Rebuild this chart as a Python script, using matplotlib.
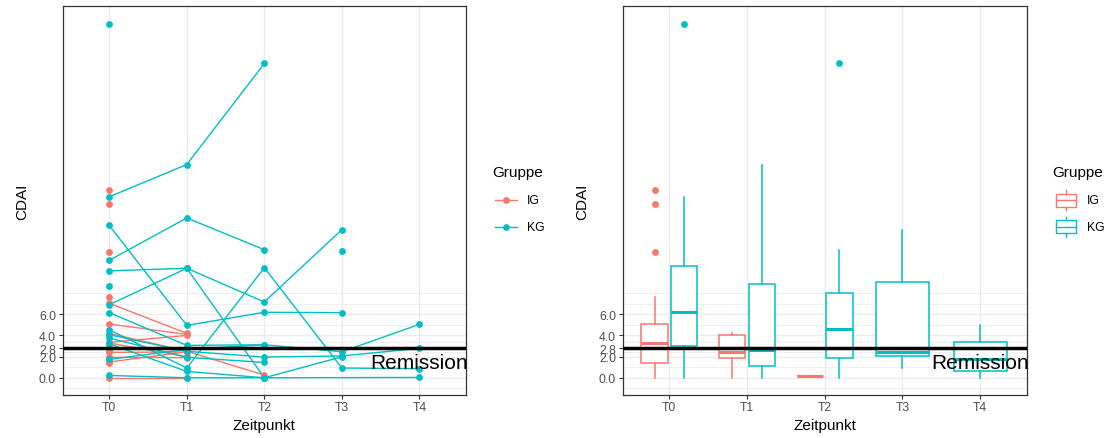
import numpy as np
import matplotlib
matplotlib.use("Agg")
import matplotlib.pyplot as plt
from matplotlib.patches import Rectangle
from matplotlib.lines import Line2D

plt.rcParams['font.family'] = ['Liberation Sans', 'DejaVu Sans']

# ---- data -------------------------------------------------------------
timepoints = ["T0", "T1", "T2", "T3", "T4"]
groups = ["IG", "KG"]
colors = {"IG": "#F8766D", "KG": "#00BFC4"}
nan = np.nan

# CDAI per patient across the time points (nan = no visit)
ig_patients = [
    [17.7, nan, nan, nan, nan],
    [16.4, nan, nan, nan, nan],
    [11.9, nan, nan, nan, nan],
    [7.66, nan, nan, nan, nan],
    [7.04, 4.2, nan, nan, nan],
    [5.08, 4.1, nan, nan, nan],
    [4.2, 2.5, 0.25, nan, nan],
    [3.35, 4.0, nan, nan, nan],
    [3.28, 2.0, nan, nan, nan],
    [2.6, nan, nan, nan, nan],
    [2.4, 2.43, nan, nan, nan],
    [1.93, 1.9, nan, nan, nan],
    [1.49, 2.45, nan, nan, nan],
    [1.42, nan, nan, nan, nan],
    [0.0, 0.0, nan, nan, nan],
]
kg_patients = [
    [33.4, nan, nan, nan, nan],
    [17.1, 20.15, 29.7, nan, nan],
    [14.4, 4.95, 6.19, 6.15, nan],
    [11.1, 15.1, 12.1, nan, nan],
    [10.1, 10.35, 7.16, 14.0, nan],
    [6.9, 10.35, 0.0, nan, 0.03],
    [8.7, nan, nan, nan, nan],
    [nan, nan, nan, 12.0, nan],
    [6.15, 3.06, 3.12, 2.46, 5.05],
    [4.54, 0.92, 10.4, 0.92, 0.85],
    [4.07, 2.5, 1.96, 2.06, 2.78],
    [3.75, 1.93, 1.45, nan, nan],
    [3.2, 0.6, 0.0, 1.98, nan],
    [1.74, 2.68, 3.12, nan, nan],
    [0.22, 0.0, 0.0, nan, nan],
]

# boxplot summaries: (timepoint index, whislo, q1, median, q3, whishi, fliers)
ig_box = [
    (0, 0.0, 1.42, 3.28, 5.05, 7.66, [11.9, 16.4, 17.7]),
    (1, 0.0, 1.90, 2.43, 4.04, 4.20, []),
    (2, 0.2, 0.20, 0.20, 0.20, 0.20, []),
]
kg_box = [
    (0, 0.0, 3.00, 6.19, 10.57, 17.07, [33.4]),
    (1, 0.0, 1.14, 2.59, 8.86, 20.12, []),
    (2, 0.0, 1.83, 4.60, 7.98, 12.08, [29.7]),
    (3, 0.95, 2.02, 2.46, 9.08, 13.97, []),
    (4, 0.0, 0.60, 1.77, 3.35, 5.01, []),
]

remission = 2.8
y_major = [0.0, 2.0, 2.8, 4.0, 6.0]
y_minor = [-1.0, 1.0, 2.4, 3.4, 5.0, 7.0, 8.0]

# ---- figure -----------------------------------------------------------
W, H = 1112, 439
fig = plt.figure(figsize=(W / 100, H / 100), dpi=100)

def fx(px):
    return px / W

def fy(py):
    return 1 - py / H

panel_top, panel_bot = 7.3, 395.7
ax1 = fig.add_axes([fx(62.7), fy(panel_bot), fx(466.0 - 62.7), (panel_bot - panel_top) / H])
ax2 = fig.add_axes([fx(622.7), fy(panel_bot), fx(1026.7 - 622.7), (panel_bot - panel_top) / H])

grid_col = "#EBEBEB"
for ax in (ax1, ax2):
    ax.set_xlim(-0.6, 4.6)
    ax.set_ylim(-1.6, 35.1)
    ax.set_xticks(range(len(timepoints)))
    ax.set_xticklabels(timepoints)
    ax.set_yticks(y_major)
    ax.set_yticklabels([f"{v:.1f}" for v in y_major])
    for v in y_minor:
        ax.axhline(v, color=grid_col, lw=0.55, zorder=0)
    for v in y_major:
        ax.axhline(v, color=grid_col, lw=1.0, zorder=0)
    for i in range(len(timepoints)):
        ax.axvline(i, color=grid_col, lw=1.0, zorder=0)
    for s in ax.spines.values():
        s.set_color("#333333")
        s.set_linewidth(0.9)
    ax.tick_params(axis="both", colors="#333333", length=2.8, width=0.8,
                   labelsize=8.8, labelcolor="#4D4D4D", pad=2)
    ax.set_xlabel("Zeitpunkt", fontsize=11, labelpad=3)
    ax.set_ylabel("CDAI", fontsize=11)
    ax.yaxis.label.set_verticalalignment("center")
    ax.yaxis.set_label_coords(-0.10, 0.5)

# ---- left: trajectories -----------------------------------------------
x = np.arange(len(timepoints))
for grp, pats in (("IG", ig_patients), ("KG", kg_patients)):
    for p in pats:
        p = np.array(p, dtype=float)
        seen = ~np.isnan(p)
        ax1.plot(x[seen], p[seen], color=colors[grp], lw=1.0, zorder=2,
                 solid_capstyle="butt")
        ax1.plot(x[seen], p[seen], "o", color=colors[grp], ms=4.9, mew=0, zorder=3)

# ---- right: boxplots --------------------------------------------------
def draw_boxes(ax, boxes, color, offset, width):
    stats = []
    pos = []
    for t, lo, q1, med, q3, hi, fl in boxes:
        stats.append(dict(whislo=lo, q1=q1, med=med, q3=q3, whishi=hi, fliers=fl))
        pos.append(t + offset(t))
    ax.bxp(stats, positions=pos, widths=[width(t) for t, *_ in boxes],
           showcaps=False, patch_artist=True, manage_ticks=False,
           boxprops=dict(facecolor="white", edgecolor=color, linewidth=1.1),
           whiskerprops=dict(color=color, linewidth=1.1),
           medianprops=dict(color=color, linewidth=2.2, solid_capstyle="butt"),
           flierprops=dict(marker="o", markerfacecolor=color, markeredgecolor="none",
                           markersize=4.9))

ig_ts = {b[0] for b in ig_box}
draw_boxes(ax2, ig_box, colors["IG"], lambda t: -0.19, lambda t: 0.34)
draw_boxes(ax2, kg_box, colors["KG"],
           lambda t: 0.19 if t in ig_ts else 0.0,
           lambda t: 0.34 if t in ig_ts else 0.68)

# ---- remission line ---------------------------------------------------
for ax in (ax1, ax2):
    ax.axhline(remission, color="black", lw=2.5, zorder=5)
    ax.text(4, remission - 0.45, "Remission", fontsize=15, ha="center", va="top",
            zorder=6, clip_on=False)

# ---- legends ----------------------------------------------------------
def legend_title(xp, yp):
    fig.text(fx(xp), fy(yp), "Gruppe", fontsize=11, ha="left", va="center")

legend_title(492, 172.5)
for grp, yp in (("IG", 200.7), ("KG", 228.3)):
    fig.add_artist(Line2D([fx(495), fx(517)], [fy(yp), fy(yp)], color=colors[grp], lw=1.0))
    fig.add_artist(Line2D([fx(506)], [fy(yp)], marker="o", color=colors[grp], ms=4.9, mew=0))
    fig.text(fx(527), fy(yp), grp, fontsize=8.8, ha="left", va="center")

legend_title(1052, 172.5)
for grp, yp in (("IG", 201), ("KG", 227.7)):
    c = colors[grp]
    fig.add_artist(Rectangle((fx(1055.5), fy(yp + 6.5)), fx(20.5), 13 / H, fill=False,
                             edgecolor=c, lw=1.0))
    fig.add_artist(Line2D([fx(1055.5), fx(1076)], [fy(yp), fy(yp)], color=c, lw=1.0))
    fig.add_artist(Line2D([fx(1065.7)] * 2, [fy(yp - 6.5), fy(yp - 10)], color=c, lw=1.0))
    fig.add_artist(Line2D([fx(1065.7)] * 2, [fy(yp + 6.5), fy(yp + 10)], color=c, lw=1.0))
    fig.text(fx(1087), fy(yp), grp, fontsize=8.8, ha="left", va="center")

fig.savefig("out.png", dpi=100)
